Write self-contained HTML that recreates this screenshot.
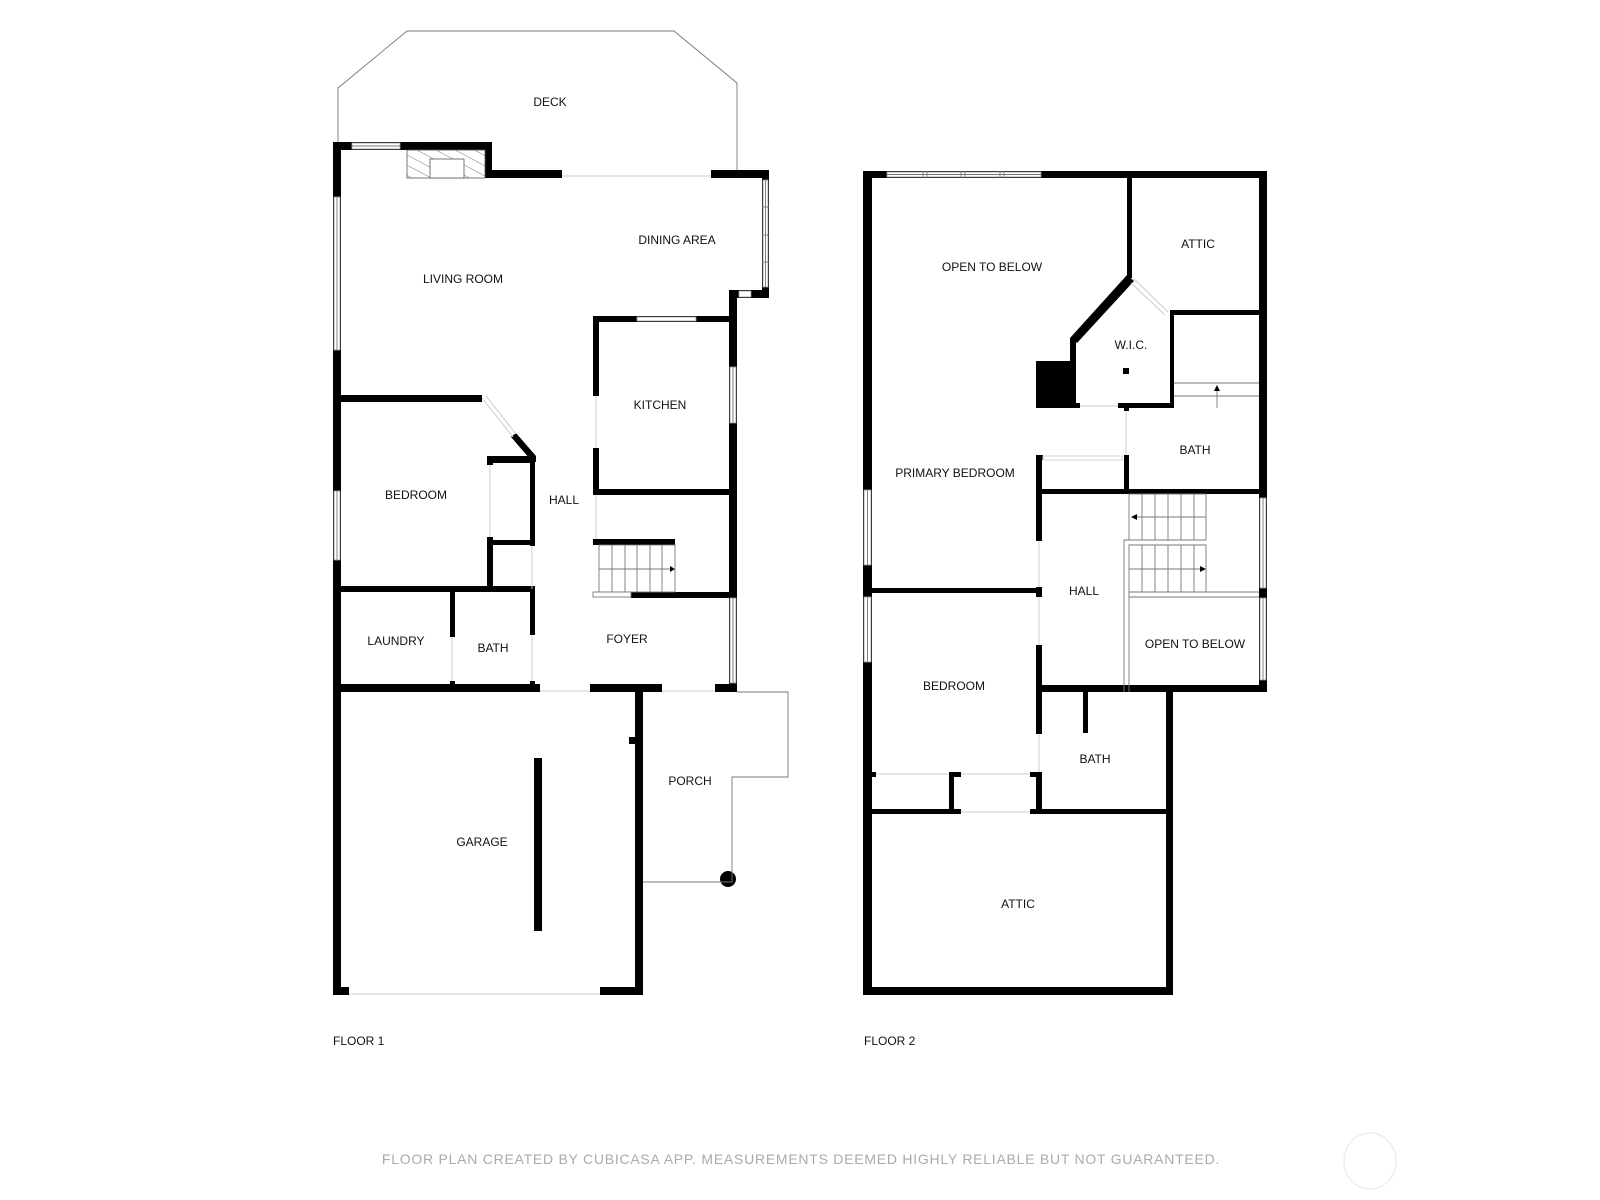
<!DOCTYPE html>
<html><head><meta charset="utf-8"><style>
html,body{margin:0;padding:0;background:#fff;}
svg{display:block;}
text{font-family:"Liberation Sans",Arial,sans-serif;font-size:12px;fill:#111;text-anchor:middle;dominant-baseline:central;}
.w{fill:#fff;stroke:#999;stroke-width:0.8;}
.l{stroke:#777;stroke-width:0.9;fill:none;}
.g{stroke:#ccc;stroke-width:1;fill:none;}
</style></head><body>
<svg width="1600" height="1200" viewBox="0 0 1600 1200" xmlns="http://www.w3.org/2000/svg">
<polyline class="l" points="338,142 338,88 407,31 674,31 737,83 737,170"/>
<g fill="#000">
<rect x="333" y="142" width="159" height="8"/>
<rect x="485" y="142" width="7" height="36"/>
<rect x="485" y="170" width="77" height="8"/>
<rect x="711" y="170" width="58" height="8"/>
<rect x="762" y="170" width="7" height="128"/>
<rect x="729" y="290" width="40" height="8"/>
<rect x="333" y="142" width="8" height="853"/>
<rect x="729" y="290" width="8" height="402"/>
<rect x="593" y="316" width="144" height="6"/>
<rect x="593" y="316" width="6" height="80"/>
<rect x="593" y="448" width="6" height="45"/>
<rect x="593" y="489" width="144" height="6"/>
<rect x="593" y="539" width="82" height="6"/>
<rect x="631" y="592" width="106" height="6"/>
<rect x="341" y="395" width="141" height="7"/>
<polygon points="511,437 516,433 536,456 536,462 530,462 530,459"/>
<rect x="530" y="458" width="5" height="88"/>
<rect x="530" y="589" width="5" height="46"/>
<rect x="487" y="456" width="48" height="7"/>
<rect x="487" y="456" width="6" height="9"/>
<rect x="487" y="537" width="6" height="53"/>
<rect x="493" y="540" width="42" height="5"/>
<rect x="341" y="586" width="194" height="6"/>
<rect x="450" y="592" width="5" height="45"/>
<rect x="450" y="681" width="5" height="5"/>
<rect x="530" y="681" width="5" height="5"/>
<rect x="333" y="684" width="207" height="8"/>
<rect x="590" y="684" width="72" height="8"/>
<rect x="715" y="684" width="22" height="8"/>
<rect x="635" y="684" width="8" height="311"/>
<rect x="629" y="737" width="7" height="7"/>
<rect x="534" y="758" width="8" height="173"/>
<rect x="333" y="987" width="16" height="8"/>
<rect x="600" y="987" width="43" height="8"/>
<circle cx="728" cy="879" r="8"/>
</g>
<line class="g" x1="349" y1="994" x2="600" y2="994"/>
<polyline class="l" points="737,692 788,692 788,777 732,777 732,882 643,882"/>
<defs><pattern id="h" width="9" height="9" patternUnits="userSpaceOnUse" patternTransform="rotate(-62)"><line x1="0" y1="0" x2="0" y2="9" stroke="#555" stroke-width="0.8"/></pattern></defs>
<rect x="407" y="150" width="78" height="28" fill="url(#h)" stroke="#555" stroke-width="0.8"/>
<rect x="430" y="159" width="34" height="19" fill="#fff" stroke="#555" stroke-width="0.8"/>
<rect class="w" x="352" y="143" width="48" height="6"/><line class="l" x1="352" y1="146" x2="400" y2="146"/>
<line class="g" x1="562" y1="176" x2="711" y2="176"/>
<rect class="w" x="763" y="180" width="5" height="107"/><line class="l" x1="765.5" y1="180" x2="765.5" y2="287"/>
<line class="l" x1="762" y1="207" x2="769" y2="207"/><line class="l" x1="762" y1="235" x2="769" y2="235"/><line class="l" x1="762" y1="262" x2="769" y2="262"/>
<rect class="w" x="739" y="291" width="12" height="6"/>
<rect class="w" x="334" y="197" width="6" height="153"/><line class="l" x1="337" y1="197" x2="337" y2="350"/>
<rect class="w" x="334" y="491" width="6" height="69"/><line class="l" x1="337" y1="491" x2="337" y2="560"/>
<rect class="w" x="637" y="317" width="59" height="4"/>
<rect class="w" x="730" y="367" width="6" height="56"/><line class="l" x1="733" y1="367" x2="733" y2="423"/>
<rect class="w" x="730" y="598" width="6" height="85"/><line class="l" x1="733" y1="598" x2="733" y2="683"/>
<line class="g" x1="596" y1="396" x2="596" y2="448"/>
<line class="g" x1="596" y1="495" x2="596" y2="539"/>
<line class="g" x1="482" y1="398" x2="513" y2="437"/><line class="g" x1="486" y1="396" x2="516" y2="434"/>
<line class="g" x1="490" y1="465" x2="490" y2="537"/>
<line class="g" x1="532" y1="546" x2="532" y2="589"/>
<line class="g" x1="452" y1="637" x2="452" y2="681"/>
<line class="g" x1="532" y1="635" x2="532" y2="681"/>
<line class="g" x1="540" y1="691" x2="590" y2="691"/>
<line class="g" x1="662" y1="691" x2="715" y2="691"/>
<g class="l">
<rect x="599" y="545" width="76" height="47"/>
<line x1="612" y1="545" x2="612" y2="592"/><line x1="625" y1="545" x2="625" y2="592"/><line x1="637" y1="545" x2="637" y2="592"/><line x1="650" y1="545" x2="650" y2="592"/><line x1="662" y1="545" x2="662" y2="592"/>
<line x1="599" y1="569" x2="674" y2="569"/>
<rect x="593" y="592" width="38" height="5" fill="#fff"/>
</g>
<polygon points="675,569 670,566 670,572" fill="#000"/>
<text x="550" y="102">DECK</text>
<text x="677" y="240">DINING AREA</text>
<text x="463" y="279">LIVING ROOM</text>
<text x="660" y="405">KITCHEN</text>
<text x="416" y="495">BEDROOM</text>
<text x="564" y="500">HALL</text>
<text x="396" y="641">LAUNDRY</text>
<text x="493" y="648">BATH</text>
<text x="627" y="639">FOYER</text>
<text x="690" y="781">PORCH</text>
<text x="482" y="842">GARAGE</text>
<text x="333" y="1041" style="text-anchor:start">FLOOR 1</text>

<g fill="#000">
<rect x="863" y="171" width="404" height="7"/>
<rect x="863" y="171" width="9" height="824"/>
<rect x="1259" y="171" width="8" height="521"/>
<rect x="1127" y="178" width="5" height="100"/>
<polygon points="1127,275 1134,281 1077,343 1070,338"/>
<rect x="1070" y="338" width="6" height="70"/>
<rect x="1036" y="361" width="40" height="47"/>
<rect x="1170" y="310" width="89" height="5"/>
<rect x="1170" y="310" width="4" height="98"/>
<rect x="1036" y="403" width="44" height="5"/>
<rect x="1118" y="403" width="56" height="5"/>
<rect x="1123" y="368" width="6" height="6"/>
<rect x="1124" y="403" width="5" height="8"/>
<rect x="1124" y="455" width="5" height="35"/>
<rect x="1036" y="455" width="6" height="86"/>
<rect x="1036" y="455" width="7" height="5"/>
<rect x="1036" y="489" width="231" height="5"/>
<rect x="872" y="588" width="170" height="5"/>
<rect x="1036" y="587" width="6" height="10"/>
<rect x="1036" y="645" width="6" height="89"/>
<rect x="1036" y="772" width="6" height="42"/>
<rect x="1042" y="685" width="225" height="7"/>
<rect x="1166" y="685" width="7" height="310"/>
<rect x="1083" y="692" width="5" height="41"/>
<rect x="872" y="772" width="4" height="5"/>
<rect x="949" y="772" width="12" height="5"/>
<rect x="949" y="772" width="5" height="42"/>
<rect x="1030" y="772" width="6" height="5"/>
<rect x="872" y="809" width="89" height="5"/>
<rect x="1030" y="809" width="136" height="5"/>
<rect x="863" y="987" width="310" height="8"/>
</g>
<rect class="w" x="887" y="172" width="154" height="5"/><line class="l" x1="887" y1="174.5" x2="1041" y2="174.5"/>
<line class="l" x1="923" y1="171" x2="923" y2="178"/><line class="l" x1="927" y1="171" x2="927" y2="178"/>
<line class="l" x1="961" y1="171" x2="961" y2="178"/><line class="l" x1="965" y1="171" x2="965" y2="178"/>
<line class="l" x1="1000" y1="171" x2="1000" y2="178"/><line class="l" x1="1004" y1="171" x2="1004" y2="178"/>
<rect class="w" x="864" y="490" width="7" height="75"/><line class="l" x1="867.5" y1="490" x2="867.5" y2="565"/>
<rect class="w" x="864" y="597" width="7" height="65"/><line class="l" x1="867.5" y1="597" x2="867.5" y2="662"/>
<rect class="w" x="1260" y="498" width="6" height="90"/><line class="l" x1="1263" y1="498" x2="1263" y2="588"/>
<rect class="w" x="1260" y="598" width="6" height="82"/><line class="l" x1="1263" y1="598" x2="1263" y2="680"/>
<line class="g" x1="1134" y1="279" x2="1168" y2="312"/><line class="g" x1="1131" y1="283" x2="1165" y2="315"/>
<line class="g" x1="1080" y1="406" x2="1118" y2="406"/>
<line class="g" x1="1126" y1="411" x2="1126" y2="455"/>
<rect x="1043" y="456" width="79" height="4" fill="#fff" stroke="#ccc" stroke-width="0.8"/>
<line class="g" x1="1039" y1="541" x2="1039" y2="587"/>
<line class="g" x1="1039" y1="597" x2="1039" y2="645"/>
<line class="g" x1="1039" y1="734" x2="1039" y2="772"/>
<line class="g" x1="876" y1="774" x2="949" y2="774"/>
<line class="g" x1="961" y1="774" x2="1030" y2="774"/>
<line class="g" x1="961" y1="812" x2="1030" y2="812"/>
<g class="l">
<line x1="1174" y1="383" x2="1259" y2="383"/><line x1="1174" y1="396" x2="1259" y2="396"/>
<line x1="1217" y1="390" x2="1217" y2="408"/>
<rect x="1129" y="494" width="77" height="46"/>
<line x1="1142" y1="494" x2="1142" y2="540"/><line x1="1155" y1="494" x2="1155" y2="540"/><line x1="1168" y1="494" x2="1168" y2="540"/><line x1="1181" y1="494" x2="1181" y2="540"/><line x1="1194" y1="494" x2="1194" y2="540"/>
<line x1="1132" y1="517" x2="1206" y2="517"/>
<polyline points="1124,692 1124,540 1206,540"/>
<polyline points="1129,692 1129,545 1206,545 1206,592"/>
<line x1="1142" y1="545" x2="1142" y2="592"/><line x1="1155" y1="545" x2="1155" y2="592"/><line x1="1168" y1="545" x2="1168" y2="592"/><line x1="1181" y1="545" x2="1181" y2="592"/><line x1="1194" y1="545" x2="1194" y2="592"/>
<line x1="1129" y1="569" x2="1204" y2="569"/>
<line x1="1129" y1="592" x2="1259" y2="592"/><line x1="1129" y1="597" x2="1259" y2="597"/>
</g>
<polygon points="1217,385 1214,391 1220,391" fill="#000"/>
<polygon points="1131,517 1137,514 1137,520" fill="#000"/>
<polygon points="1206,569 1200,566 1200,572" fill="#000"/>
<text x="992" y="267">OPEN TO BELOW</text>
<text x="1198" y="244">ATTIC</text>
<text x="1131" y="345">W.I.C.</text>
<text x="1195" y="450">BATH</text>
<text x="955" y="473">PRIMARY BEDROOM</text>
<text x="1084" y="591">HALL</text>
<text x="1195" y="644">OPEN TO BELOW</text>
<text x="954" y="686">BEDROOM</text>
<text x="1095" y="759">BATH</text>
<text x="1018" y="904">ATTIC</text>
<text x="864" y="1041" style="text-anchor:start">FLOOR 2</text>
<text x="801" y="1159" style="font-size:14px;fill:#aaa;letter-spacing:0.75px">FLOOR PLAN CREATED BY CUBICASA APP. MEASUREMENTS DEEMED HIGHLY RELIABLE BUT NOT GUARANTEED.</text>
<ellipse cx="1370" cy="1161" rx="26" ry="28" fill="none" stroke="#eee" stroke-width="1.5"/>
</svg>
</body></html>
